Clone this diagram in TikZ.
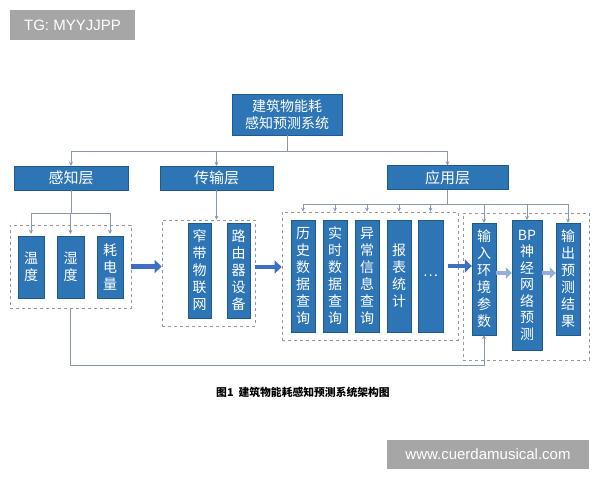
\documentclass[tikz,border=0pt]{standalone}
\usepackage{fontspec}
\usetikzlibrary{arrows.meta}
\newfontfamily\cjk{Noto Sans CJK SC}
\newfontfamily\wmfont{Liberation Sans}
\definecolor{boxblue}{HTML}{2E75B6}
\definecolor{boxedge}{HTML}{1F5A8C}
\definecolor{linegray}{HTML}{8A98AC}
\definecolor{bigblue}{HTML}{3F6FC0}
\definecolor{paleblue}{HTML}{93AEDB}
\definecolor{wmgray}{HTML}{A6A6A6}

\begin{document}
\begin{tikzpicture}[x=1pt, y=-1pt,
    main/.style = {draw=boxedge, fill=boxblue, text=white, inner sep=0pt, align=center,
                   font=\cjk\fontsize{14}{17}\selectfont},
    grp/.style = {draw=gray!80, dashed, line width=0.7pt, inner sep=0pt},
    link/.style = {draw=linegray, line width=0.9pt, -{Stealth[length=4pt,width=4pt]}},
    bigarrow/.style = {draw=bigblue, line width=4.5pt, -{Triangle[length=7pt,width=13pt]}},
    palearrow/.style = {draw=paleblue, line width=4.5pt, -{Triangle[length=6pt,width=11pt]}},
    mark box/.style = {fill=wmgray, text=white, inner sep=0pt, font=\wmfont\fontsize{15}{18}\selectfont}]
    % Frame
    \useasboundingbox (0,0) rectangle (600,480);

    % Top and layers
    \node[main, minimum width=110, minimum height=41, font=\cjk\fontsize{14}{17}\selectfont] (top) at (287,114.5) {建筑物能耗\\感知预测系统};
    \node[main, minimum width=114, minimum height=24, font=\cjk\fontsize{15}{17}\selectfont] (L1) at (71,178) {感知层};
    \node[main, minimum width=113, minimum height=24, font=\cjk\fontsize{15}{17}\selectfont] (L2) at (216.5,178) {传输层};
    \node[main, minimum width=121, minimum height=24, font=\cjk\fontsize{15}{17}\selectfont] (L3) at (447.5,177.5) {应用层};

    % Groups
    \node[grp, minimum width=121, minimum height=83] (g1) at (70.5,266.5) {};
    \node[grp, minimum width=93, minimum height=106] (g2) at (208.5,273) {};
    \node[grp, minimum width=176, minimum height=128] (g3) at (370,276) {};
    \node[grp, minimum width=126, minimum height=147] (g4) at (526,286.5) {};

    % Perception
    \node[main, minimum width=26, minimum height=62] (s1) at (31,267) {温\\度};
    \node[main, minimum width=27, minimum height=62] (s2) at (70.5,267) {湿\\度};
    \node[main, minimum width=26, minimum height=62] (s3) at (110,267) {耗\\电\\量};

    % Transmission
    \node[main, minimum width=23, minimum height=95] (t1) at (199.5,270.5) {窄\\带\\物\\联\\网};
    \node[main, minimum width=23, minimum height=95] (t2) at (238.5,270.5) {路\\由\\器\\设\\备};

    % Application
    \node[main, minimum width=24, minimum height=112] (a1) at (303,276) {历\\史\\数\\据\\查\\询};
    \node[main, minimum width=24, minimum height=112] (a2) at (335,276) {实\\时\\数\\据\\查\\询};
    \node[main, minimum width=24, minimum height=112] (a3) at (367,276) {异\\常\\信\\息\\查\\询};
    \node[main, minimum width=24, minimum height=112] (a4) at (399,276) {报\\表\\统\\计};
    \node[main, minimum width=25, minimum height=112] (a5) at (430.5,276) {…};

    \node[main, minimum width=24, minimum height=112] (in) at (484,279) {输\\入\\环\\境\\参\\数};
    \node[main, minimum width=30, minimum height=130, font=\cjk\fontsize{14}{16.5}\selectfont] (bp) at (527,285) {BP\\神\\经\\网\\络\\预\\测};
    \node[main, minimum width=24, minimum height=112] (out) at (568,279) {输\\出\\预\\测\\结\\果};

    % Edges
    \coordinate (j0) at (287,151);
    \draw[draw=linegray, line width=0.9pt] (top.south) -- (j0);
    \draw[link] (j0) -| (L1.north);
    \draw[link] (j0) -| (L2.north);
    \draw[link] (j0) -| (L3.north);

    \coordinate (j1) at (71,213);
    \draw[draw=linegray, line width=0.9pt] (L1.south) -- (j1);
    \draw[link] (j1) -| ([yshift=2pt]s1.north);
    \draw[link] (j1) -| ([yshift=2pt]s2.north);
    \draw[link] (j1) -| ([yshift=2pt]s3.north);

    \draw[link] (L2.south) -- (L2.south |- g2.north);

    \coordinate (j3) at (447.5,204);
    \draw[draw=linegray, line width=0.9pt] (L3.south) -- (j3);
    \foreach \b in {a1,a2,a3,a4,a5}
      \draw[link] (j3) -| (\b.north |- g3.north);
    \foreach \b in {in,bp,out}
      \draw[link] (j3) -| (\b.north);

    \draw[bigarrow] (g1.east) -- (g1.east -| g2.west);
    \draw[bigarrow] ([yshift=6pt]g2.east) -- ([yshift=6pt]g2.east -| g3.west);
    \draw[bigarrow] ([xshift=-10pt,yshift=10pt]g3.east) -- ([yshift=10pt]g3.east -| in.west);
    \draw[palearrow] ([yshift=6pt]in.east) -- ([yshift=6pt]in.east -| bp.west);
    \draw[palearrow] ([yshift=12pt]bp.east) -- ([yshift=12pt]bp.east -| out.west);

    % feedback
    \coordinate (fb) at (484,365);
    \draw[link] (g1.south) |- (fb) -- (in.south);

    % Caption
    \node[font=\cjk\bfseries\fontsize{10.8}{13}\selectfont] (cap) at (303,392) {图1\ \ 建筑物能耗感知预测系统架构图};

    % Marks
    \node[mark box, minimum width=125, minimum height=30] (tg) at (72.5,25) {TG: MYYJJPP};
    \node[mark box, minimum width=202, minimum height=29] (www) at (488,454.5) {www.cuerdamusical.com};
\end{tikzpicture}
\end{document}
